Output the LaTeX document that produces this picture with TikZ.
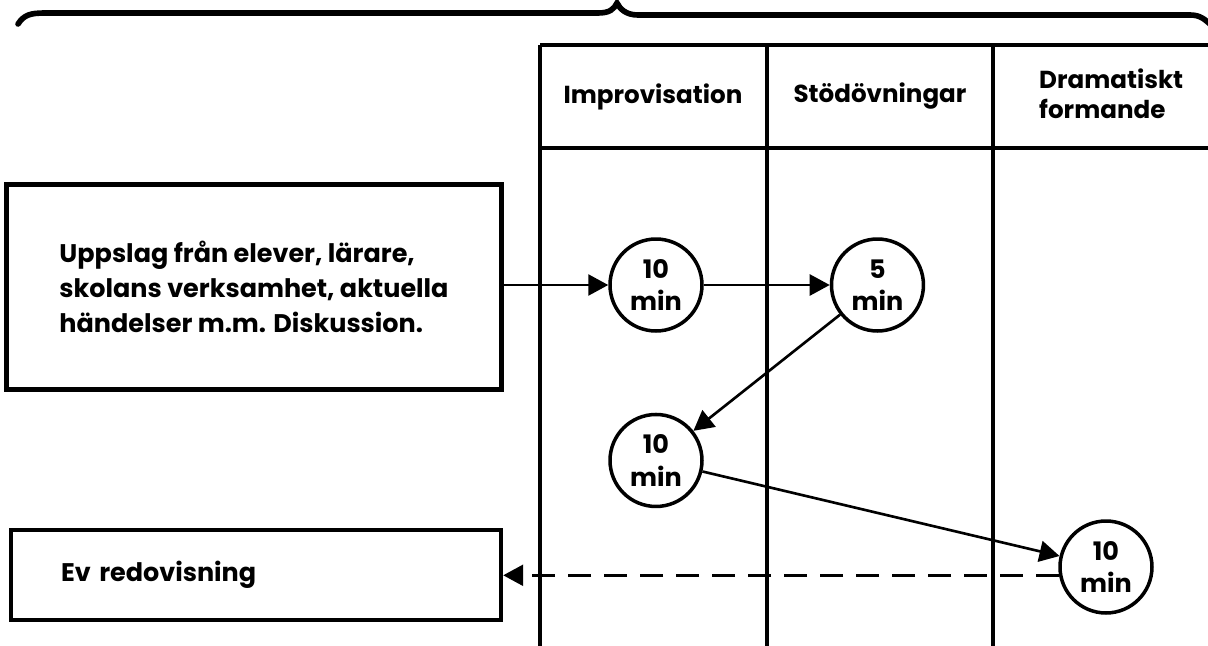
\documentclass[tikz,border=0pt]{standalone}
\usepackage{fontspec}
\setmainfont{Poppins}
\usetikzlibrary{arrows.meta,positioning}
\tikzset{
topicbox/.style={draw,line width=2.6pt,inner xsep=1cm,minimum width=9.9cm,align=left,font=\fontsize{14.5}{20}\selectfont\bfseries},
timer/.style={draw,circle,line width=2pt,minimum size=1.84cm,inner sep=0pt,align=center,font=\fontsize{14.5}{18.5}\selectfont\bfseries},
colhead/.style={font=\fontsize{14}{17}\selectfont\bfseries,align=left},
flow/.style={-{Triangle[length=4mm,width=4.2mm]},line width=1.5pt},
backflow/.style={flow,dash pattern=on 4.6mm off 2.6mm},
rule/.style={line width=2.3pt},
bracket/.style={line width=3.2pt,line cap=round}
}
\begin{document}
\begin{tikzpicture}[x=0.02cm,y=-0.02cm,node distance=1.6cm and 2.52cm]
\useasboundingbox (0,0) rectangle (1208,646);
\draw[bracket] (18,24) .. controls (24,15) and (30,13) .. (45,13) -- (598,13) .. controls (610,13) and (614,9) .. (617,3) .. controls (620,9) and (626,15) .. (638,15) -- (1190,15) .. controls (1200,15) and (1205,19) .. (1214,28);
\draw[rule] (540,45) -- (1215,45);
\draw[rule] (540,148) -- (1215,148);
\foreach \x in {540,767,993}
  \draw[rule] (\x,45) -- (\x,650);
\node[colhead] (colimprov) at (653,97) {Improvisation};
\node[colhead] (colstod) at (880,96) {Stödövningar};
\node[colhead,anchor=west] (coldrama) at (1033,94) {Dramatiskt\\formande};
\node[topicbox,minimum height=4.1cm] (uppslag) at (254,287) {Uppslag från elever, lärare,\\skolans verksamhet, aktuella\\händelser m.m. Diskussion.};
\node[topicbox,text width=7.8cm,minimum width=0pt,minimum height=1.8cm] (redov) at (256,575) {Ev redovisning};
\node[timer] (improv) at (656,285) {10\\min};
\node[timer,right=of improv] (stod) {5\\min};
\node[timer,below=of improv] (improvb) {10\\min};
\node[timer] (drama) at (1106,567) {10\\min};
\draw[flow] (uppslag.east |- improv) -- (improv);
\draw[flow] (improv) -- (stod);
\draw[flow] (stod) -- (improvb);
\draw[flow] (improvb) -- (drama);
\draw[backflow] (drama.190) -- (drama.190 -| redov.east);
\end{tikzpicture}
\end{document}
